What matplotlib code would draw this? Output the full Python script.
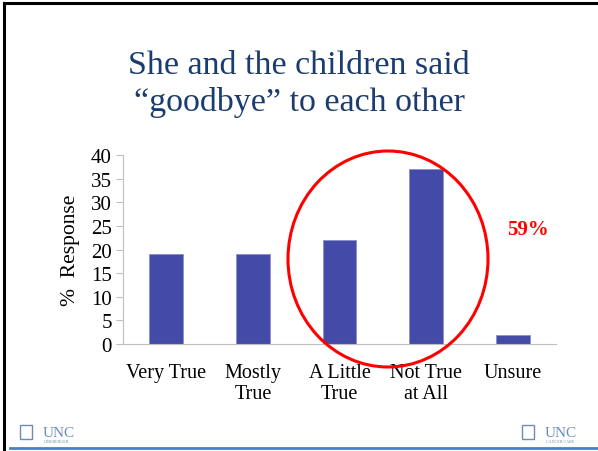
import matplotlib.pyplot as plt
from matplotlib.patches import Ellipse, Rectangle
from matplotlib.lines import Line2D

# Datos del grafico
categorias = ['Very True', 'Mostly\nTrue', 'A Little\nTrue', 'Not True\nat All', 'Unsure']
respuesta = [19, 19, 22, 37, 2]
ticks_y = [0, 5, 10, 15, 20, 25, 30, 35, 40]

W, H = 598, 452
fig = plt.figure(figsize=(W / 100, H / 100), dpi=100)
plt.rcParams['font.family'] = ['Liberation Serif', 'DejaVu Serif']

# Marco de la diapositiva
fig.add_artist(Line2D([4 / W, 1], [1 - 4 / H, 1 - 4 / H], color='black', lw=2.2))
fig.add_artist(Line2D([4 / W, 4 / W], [1 - 4 / H, 2 / H], color='black', lw=2.2))
fig.add_artist(Line2D([10 / W, 1], [3 / H, 3 / H], color='#4a7fc1', lw=2.0))

# Titulo
azul = '#1b3c6e'
fig.text(0.5, 1 - 74 / H, 'She and the children said', ha='center', va='baseline',
         fontsize=24.5, color=azul)
fig.text(0.5, 1 - 111 / H, '\u201cgoodbye\u201d to each other', ha='center', va='baseline',
         fontsize=24.5, color=azul)

# Ejes
ax = fig.add_axes([123 / W, 107 / H, 433 / W, 189 / H])
x = range(len(categorias))
ax.bar(x, respuesta, width=0.39, color='#434aa7', edgecolor='#8a8fd0', linewidth=0.6)
ax.set_xlim(-0.5, len(categorias) - 0.5)
ax.set_ylim(0, 40)
ax.set_yticks(ticks_y)
ax.set_xticks(list(x))
ax.set_xticklabels(categorias, fontsize=14.5, linespacing=1.1)
ax.tick_params(axis='x', length=0, pad=14)
ax.tick_params(axis='y', labelsize=15, length=5, color='#bfbfbf', pad=3)
for s in ['top', 'right']:
    ax.spines[s].set_visible(False)
for s in ['left', 'bottom']:
    ax.spines[s].set_color('#bfbfbf')
ax.set_ylabel('%  Response', fontsize=15.5, labelpad=8)

# Circulo rojo y porcentaje
fig.add_artist(Ellipse((388 / W, 1 - 260 / H), 200 / W, 216 / H, fill=False,
                       edgecolor='#ff0000', lw=2.2))
fig.text(528 / W, 1 - 230 / H, '59%', ha='center', va='center', fontsize=15,
         fontweight='bold', color='#ff0000')

# Logos UNC
gris = '#6d8bb3'
for x0, sub in [(20, 'LINEBERGER'), (522, 'CANCER CARE')]:
    fig.add_artist(Rectangle((x0 / W, 12 / H), 12 / W, 14 / H, fill=False,
                             edgecolor=gris, lw=1.0))
    fig.text((x0 + 23) / W, 1 - 437 / H, 'UNC', fontsize=11, color=gris,
             va='baseline', ha='left')
    fig.text((x0 + 24) / W, 1 - 443 / H, sub, fontsize=3, color=gris,
             va='baseline', ha='left')

fig.savefig('out.png', dpi=100)
